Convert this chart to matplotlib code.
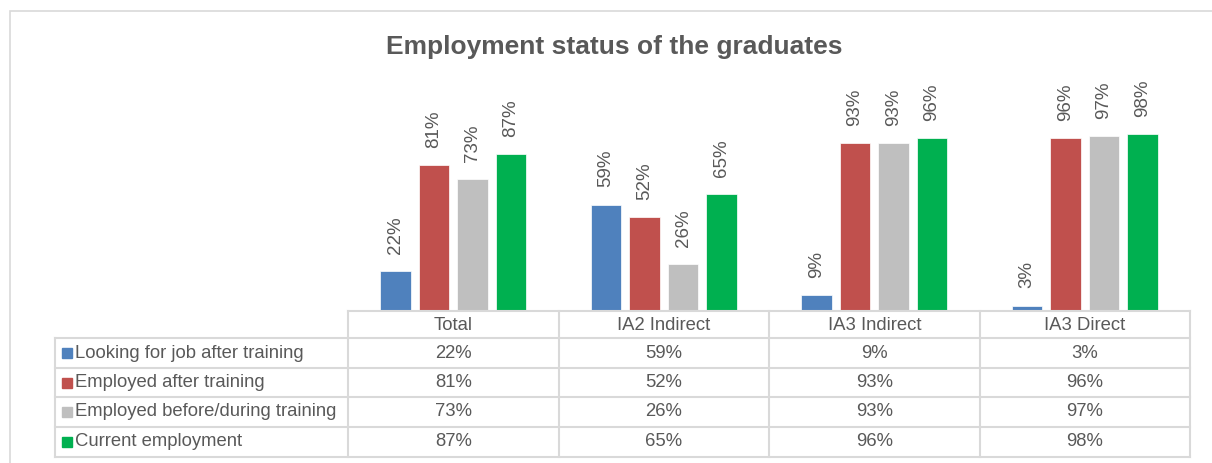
import numpy as np
import matplotlib.pyplot as plt
from matplotlib.transforms import blended_transform_factory
from matplotlib.patches import Rectangle

plt.rcParams['font.family'] = ['Liberation Sans', 'DejaVu Sans']

categories = ['Total', 'IA2 Indirect', 'IA3 Indirect', 'IA3 Direct']
series_names = ['Looking for job after training', 'Employed after training',
                'Employed before/during training', 'Current employment']
looking = [22, 59, 9, 3]
employed_after = [81, 52, 93, 96]
employed_before = [73, 26, 93, 97]
current = [87, 65, 96, 98]
series = [looking, employed_after, employed_before, current]
colors = ['#4F81BD', '#C0504D', '#BFBFBF', '#00B050']

W, H = 1212, 463
TXT = '#595959'
LINE = '#D9D9D9'

fig = plt.figure(figsize=(W / 100, H / 100), dpi=100)

def fx(px):
    return px / W

def fy(py):
    return 1 - py / H

# outer chart frame
fig.add_artist(Rectangle((fx(10), fy(480)), fx(1240) - fx(10), fy(11) - fy(480),
                         transform=fig.transFigure, fill=False,
                         edgecolor=LINE, linewidth=1.2))

ax = fig.add_axes([fx(348), fy(311), fx(1190) - fx(348), fy(80) - fy(311)])
x = np.arange(len(categories))
pitch = 0.183
width = 0.143
for i, (vals, c) in enumerate(zip(series, colors)):
    pos = x + (i - 1.5) * pitch
    ax.bar(pos, vals, width=width, color=c, edgecolor='white', linewidth=0.5)
    for p, v in zip(pos, vals):
        ax.text(p, v + 9.5, f'{v}%', rotation=90, ha='center', va='bottom',
                fontsize=13.5, color=TXT)

ax.set_xlim(-0.5, len(categories) - 0.5)
ax.set_ylim(0, 128)
ax.axis('off')

fig.text(fx(614), fy(47), 'Employment status of the graduates', ha='center',
         va='center', fontsize=19, fontweight='bold', color=TXT)

# data table under the plot
tr = blended_transform_factory(ax.transData, fig.transFigure)
row_y = [311, 338, 368, 397, 427, 457]
xl = -0.5
xr = len(categories) - 0.5
leg_left = fx(55)

def hline(x0, x1, y, transform):
    fig.add_artist(plt.Line2D([x0, x1], [fy(y), fy(y)], transform=transform,
                              color=LINE, linewidth=1.5))

def vline(xv, y0, y1, transform):
    fig.add_artist(plt.Line2D([xv, xv], [fy(y0), fy(y1)], transform=transform,
                              color=LINE, linewidth=1.5))

hline(xl, xr, row_y[0], tr)
for y in row_y[1:]:
    hline(leg_left, fx(1190), y, fig.transFigure)
for k in range(len(categories) + 1):
    vline(xl + k, row_y[0], row_y[-1], tr)
vline(leg_left, row_y[1], row_y[-1], fig.transFigure)

for j, cat in enumerate(categories):
    fig.text(j, fy((row_y[0] + row_y[1]) / 2 + 1), cat, transform=tr,
             ha='center', va='center', fontsize=13.3, color=TXT)

for i, (name, vals, c) in enumerate(zip(series_names, series, colors)):
    yc = (row_y[i + 1] + row_y[i + 2]) / 2
    fig.add_artist(Rectangle((fx(62), fy(yc + 5)), fx(10), fy(yc - 5) - fy(yc + 5),
                             transform=fig.transFigure, color=c))
    fig.text(fx(75), fy(yc), name, ha='left', va='center', fontsize=13.3, color=TXT)
    for j, v in enumerate(vals):
        fig.text(j, fy(yc), f'{v}%', transform=tr, ha='center', va='center',
                 fontsize=13.3, color=TXT)

fig.savefig('out.png', dpi=100)
